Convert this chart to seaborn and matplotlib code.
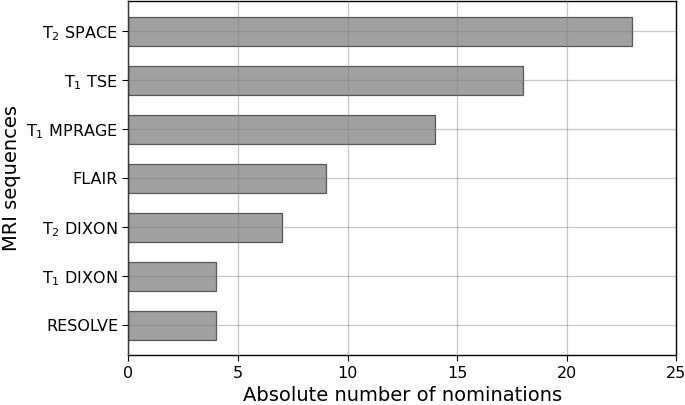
import matplotlib
matplotlib.use("Agg")
import matplotlib.pyplot as plt
import seaborn as sns
import pandas as pd

sequences = ["T$_2$ SPACE", "T$_1$ TSE", "T$_1$ MPRAGE", "FLAIR",
             "T$_2$ DIXON", "T$_1$ DIXON", "RESOLVE"]
nominations = [23, 18, 14, 9, 7, 4, 4]

df = pd.DataFrame({"seq": sequences, "n": nominations})

sns.set_style("ticks")
plt.rcParams["font.family"] = ["DejaVu Sans"]
plt.rcParams["text.color"] = "black"
plt.rcParams["axes.labelcolor"] = "black"

fig = plt.figure(figsize=(6.85, 4.05), dpi=100)
ax = fig.add_axes([0.1875, 0.123, 0.7995, 0.874])

sns.barplot(data=df, x="n", y="seq", orient="h", order=sequences,
            color="gray", alpha=0.75, width=0.59, edgecolor="#303030",
            linewidth=0.9, saturation=1, ax=ax)

ax.set_xlim(0, 25)
ax.set_ylim(6.61, -0.61)
ax.set_xticks([0, 5, 10, 15, 20, 25])
ax.grid(True, color="#808080", alpha=0.45, linewidth=0.9)
ax.set_axisbelow(False)
for s in ax.spines.values():
    s.set_visible(True)
    s.set_color("black")
    s.set_linewidth(1.0)

ax.tick_params(axis="both", labelsize=11.5, colors="black", length=4)
ax.set_xlabel("Absolute number of nominations", fontsize=14)
ax.set_ylabel("MRI sequences", fontsize=14)

fig.savefig("out.png", dpi=100)
